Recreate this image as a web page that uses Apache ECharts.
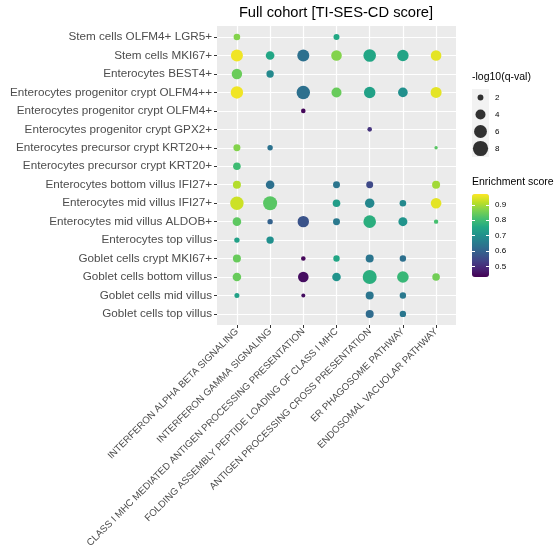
<!DOCTYPE html>
<html lang="en">
<head>
<meta charset="UTF-8">
<title>Full cohort</title>
<style>html,body{margin:0;padding:0;background:#fff;}</style>
</head>
<body>
<div id="chart" style="width:557px;height:557px;"></div>
<script src="https://cdn.jsdelivr.net/npm/echarts@6/dist/echarts.min.js"></script>
<script>
var cellTypes = [
    'Stem cells OLFM4+ LGR5+', 'Stem cells MKI67+', 'Enterocytes BEST4+',
    'Enterocytes progenitor crypt OLFM4++', 'Enterocytes progenitor crypt OLFM4+',
    'Enterocytes progenitor crypt GPX2+', 'Enterocytes precursor crypt KRT20++',
    'Enterocytes precursor crypt KRT20+', 'Enterocytes bottom villus IFI27+',
    'Enterocytes mid villus IFI27+', 'Enterocytes mid villus ALDOB+',
    'Enterocytes top villus', 'Goblet cells crypt MKI67+', 'Goblet cells bottom villus',
    'Goblet cells mid villus', 'Goblet cells top villus'
];
var pathways = [
    'INTERFERON ALPHA BETA SIGNALING', 'INTERFERON GAMMA SIGNALING',
    'CLASS I MHC MEDIATED ANTIGEN PROCESSING PRESENTATION',
    'FOLDING ASSEMBLY PEPTIDE LOADING OF CLASS I MHC',
    'ANTIGEN PROCESSING CROSS PRESENTATION', 'ER PHAGOSOME PATHWAY',
    'ENDOSOMAL VACUOLAR PATHWAY'
];
var n = null;
// enrichment score, one row per cell type, one column per pathway
var enrich = [
    [0.87, n, n, 0.755, n, n, n],
    [0.96, 0.75, 0.63, 0.87, 0.75, 0.745, 0.95],
    [0.847, 0.685, n, n, n, n, n],
    [0.96, n, 0.63, 0.845, 0.74, 0.70, 0.95],
    [n, n, 0.44, n, n, n, n],
    [n, n, n, n, 0.51, n, n],
    [0.87, 0.635, n, n, n, n, 0.83],
    [0.80, n, n, n, n, n, n],
    [0.91, 0.63, n, 0.64, 0.55, n, 0.895],
    [0.93, 0.83, n, 0.73, 0.68, 0.685, 0.95],
    [0.835, 0.60, 0.57, 0.65, 0.77, 0.71, 0.81],
    [0.74, 0.70, n, n, n, n, n],
    [0.845, n, 0.44, 0.75, 0.64, 0.63, n],
    [0.845, n, 0.45, 0.71, 0.77, 0.79, 0.855],
    [0.74, n, 0.45, n, 0.64, 0.65, n],
    [n, n, n, n, 0.62, 0.645, n]
];
// -log10(q-val)
var negLogQ = [
    [2.29, n, n, 2.06, n, n, n],
    [5.33, 3.21, 5.33, 4.37, 5.78, 4.91, 4.37],
    [4.25, 2.63, n, n, n, n, n],
    [5.63, n, 6.41, 4.0, 4.91, 3.8, 4.64],
    [n, n, 1.61, n, n, n, n],
    [n, n, n, n, 1.61, n, n],
    [2.45, 1.85, n, n, n, n, 1.32],
    [2.72, n, n, n, n, n, n],
    [2.91, 3.21, n, 2.45, 2.45, n, 2.91],
    [6.41, 6.91, n, 2.72, 3.65, 2.29, 4.37],
    [3.21, 1.85, 4.91, 2.45, 5.78, 3.42, 1.55],
    [1.85, 2.63, n, n, n, n, n],
    [2.91, n, 1.61, 2.21, 2.91, 2.21, n],
    [3.21, n, 4.37, 3.21, 6.91, 5.05, 2.72],
    [1.73, n, 1.45, n, 2.91, 2.21, n],
    [n, n, n, n, 2.91, 2.21, n]
];
var sizeBreaks = [2, 4, 6, 8];
var colorBreaks = [0.5, 0.6, 0.7, 0.8, 0.9];
var colorMin = 0.431, colorMax = 0.971;

var viridis = ['#440154', '#482475', '#414487', '#355F8D', '#2A788E', '#21908D',
    '#22A884', '#44BF70', '#7AD151', '#BDDF26', '#FDE725'];

// area grows linearly with -log10(q)
function dotSize(v) {
    return 2 * Math.sqrt(Math.max(8.25 * v - 8, 1));
}

var points = [];
enrich.forEach(function (row, i) {
    row.forEach(function (e, j) {
        if (e !== null) points.push([j, i, e, negLogQ[i][j]]);
    });
});

var font = 'Liberation Sans, Arial, sans-serif';
var axisGrey = '#4D4D4D';
var colIdx = pathways.map(function (p, i) { return i; });
var rowIdx = cellTypes.map(function (c, i) { return i; });

var chart = echarts.init(document.getElementById('chart'));
chart.setOption({
    animation: false,
    textStyle: { fontFamily: font },
    title: [
        { text: 'Full cohort [TI-SES-CD score]', left: 336, top: 5, padding: 0, textAlign: 'center',
          textStyle: { fontSize: 14.7, fontWeight: 'normal', color: '#000', fontFamily: font } },
        { text: '-log10(q-val)', left: 472, top: 72, padding: 0,
          textStyle: { fontSize: 10.5, fontWeight: 'normal', color: '#000', fontFamily: font } },
        { text: 'Enrichment score', left: 472, top: 177, padding: 0,
          textStyle: { fontSize: 10.5, fontWeight: 'normal', color: '#000', fontFamily: font } }
    ],
    grid: [
        { left: 217, right: 101, top: 26, bottom: 232, show: true, backgroundColor: '#EBEBEB', borderWidth: 0 },
        { left: 472, width: 17, top: 89, height: 68, show: true, backgroundColor: '#F2F2F2', borderWidth: 0 },
        { left: 472, width: 17, top: 194, height: 83, show: false }
    ],
    visualMap: {
        type: 'continuous', seriesIndex: 0, dimension: 2,
        min: colorMin, max: colorMax, calculable: false, text: null,
        left: 472, top: 194, itemWidth: 17, itemHeight: 83, padding: 0,
        showLabel: false,
        inRange: { color: viridis },
        textStyle: { color: 'rgba(0,0,0,0)', fontSize: 1 }
    },
    xAxis: [
        {
            gridIndex: 0, type: 'value', min: -0.6, max: 6.6, minInterval: 1, maxInterval: 1,
            axisLine: { show: false, onZero: false },
            axisTick: { show: true, length: 3, lineStyle: { color: '#333' }, customValues: colIdx },
            axisLabel: {
                rotate: 45, margin: 5, fontSize: 9.7, color: axisGrey,
                customValues: colIdx,
                formatter: function (v) { return Number.isInteger(v) ? pathways[v] : ''; }
            },
            splitLine: { show: true, lineStyle: { color: '#fff', width: 1.2 } }
        },
        { gridIndex: 1, type: 'category', data: [''], show: false },
        { gridIndex: 2, type: 'value', show: false }
    ],
    yAxis: [
        {
            gridIndex: 0, type: 'value', inverse: true, min: -0.6, max: 15.6, minInterval: 1, maxInterval: 1,
            axisLine: { show: false, onZero: false },
            axisTick: { show: true, length: 3, lineStyle: { color: '#333' }, customValues: rowIdx },
            axisLabel: {
                margin: 5, fontSize: 11.7, color: axisGrey,
                customValues: rowIdx,
                formatter: function (v) { return Number.isInteger(v) ? cellTypes[v] : ''; }
            },
            splitLine: { show: true, lineStyle: { color: '#fff', width: 1.2 } }
        },
        {
            gridIndex: 1, type: 'category', inverse: true, position: 'right',
            data: sizeBreaks.map(String),
            axisLine: { show: false, onZero: false }, axisTick: { show: false },
            axisLabel: { margin: 6, fontSize: 8, color: '#000' },
            splitLine: { show: false }
        },
        {
            gridIndex: 2, type: 'value', position: 'left', min: colorMin, max: colorMax, splitNumber: 5, z: 10,
            axisLine: { show: false, onZero: false },
            axisTick: { show: true, inside: true, length: 3, lineStyle: { color: '#fff', width: 1 }, customValues: colorBreaks },
            axisLabel: { show: false },
            splitLine: { show: false }
        },
        {
            gridIndex: 2, type: 'value', position: 'right', min: colorMin, max: colorMax, splitNumber: 5, z: 10,
            axisLine: { show: false, onZero: false },
            axisTick: { show: true, inside: true, length: 3, lineStyle: { color: '#fff', width: 1 }, customValues: colorBreaks },
            axisLabel: { margin: 6, fontSize: 8, color: '#000', customValues: colorBreaks,
                showMinLabel: true, showMaxLabel: true,
                formatter: function (v) { return v.toFixed(1); } },
            splitLine: { show: false }
        }
    ],
    series: [
        {
            type: 'scatter', xAxisIndex: 0, yAxisIndex: 0,
            data: points,
            symbolSize: function (d) { return dotSize(d[3]); },
            itemStyle: { opacity: 1 },
            emphasis: { disabled: true }
        },
        {
            type: 'scatter', xAxisIndex: 1, yAxisIndex: 1,
            data: sizeBreaks.map(function (b) { return ['', String(b), b]; }),
            symbolSize: function (d) { return dotSize(d[2]); },
            itemStyle: { color: '#000' },
            emphasis: { disabled: true }
        }
    ]
});
</script>
</body>
</html>
